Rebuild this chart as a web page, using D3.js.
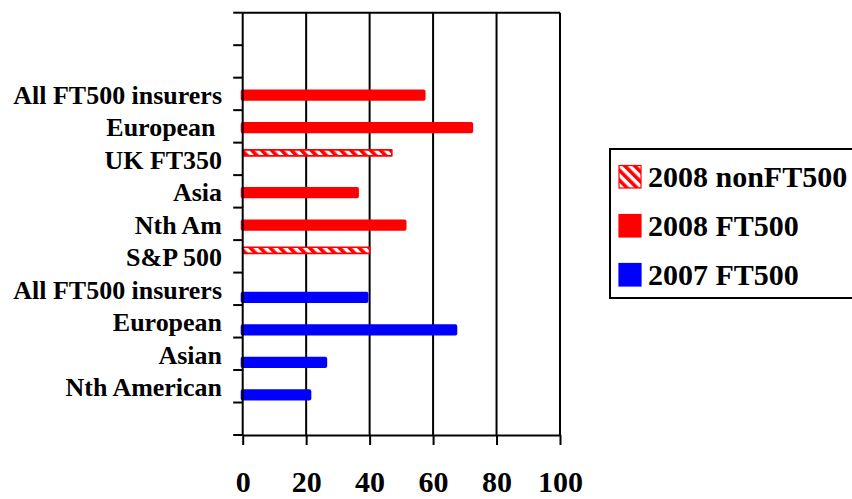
<!DOCTYPE html>
<html>
<head>
<meta charset="utf-8">
<script src="https://cdn.jsdelivr.net/npm/d3@7"></script>
<style>
  html, body { margin: 0; padding: 0; background: #fff; }
  svg { display: block; }
  text { font-family: "Liberation Serif", "Times New Roman", serif; font-weight: bold; fill: #000; white-space: pre; }
</style>
</head>
<body>
<svg id="chart" width="852" height="499"></svg>
<script>
// Category rows, top to bottom (empty strings are spacer rows)
const categories = ["", "", "All FT500 insurers", "European ", "UK FT350", "Asia", "Nth Am",
  "S&P 500", "All FT500 insurers", "European", "Asian", "Nth American", ""];

// Series names in legend order
const seriesNames = ["2008 nonFT500", "2008 FT500", "2007 FT500"];

// Values per category row for each series
const nonFT500_2008 = [null, null, null, null, 47, null, null, 40, null, null, null, null, null];
const ft500_2008    = [null, null, 57, 72, null, 36, 51, null, null, null, null, null, null];
const ft500_2007    = [null, null, null, null, null, null, null, null, 39, 67, 26, 21, null];

// Value axis ticks
const xTicks = [0, 20, 40, 60, 80, 100];

const seriesValues = [nonFT500_2008, ft500_2008, ft500_2007];
const seriesFill = ["url(#hatch)", "#ff0000", "#0000ff"];
const seriesEdge = ["#ff0000", "#ff0000", "#0000ff"];

const svg = d3.select("#chart");

const plot = { left: 242.7, right: 560, top: 12.7, bottom: 435 };

const x = d3.scaleLinear().domain([0, 100]).range([plot.left, plot.right]);
const y = d3.scaleBand().domain(d3.range(categories.length)).range([plot.top, plot.bottom]).padding(0);
// Slots for the three series inside each category row
const sub = d3.scaleBand().domain(d3.range(seriesNames.length)).range([6.6, 28.4]).padding(0);

// Diagonal hatch used by the nonFT500 series
const defs = svg.append("defs");
const pat = defs.append("pattern")
  .attr("id", "hatch")
  .attr("patternUnits", "userSpaceOnUse")
  .attr("width", 7).attr("height", 7)
  .attr("patternTransform", "rotate(-45)");
pat.append("rect").attr("width", 7).attr("height", 7).attr("fill", "#fff");
pat.append("rect").attr("width", 3.6).attr("height", 7).attr("fill", "#ff0000");

// Vertical gridlines
svg.append("g").selectAll("line")
  .data(xTicks.filter(d => d > 0))
  .join("line")
  .attr("x1", d => x(d)).attr("x2", d => x(d))
  .attr("y1", plot.top).attr("y2", plot.bottom)
  .attr("stroke", "#000").attr("stroke-width", 2);

// Top border of the plot
svg.append("line")
  .attr("x1", x(0)).attr("x2", x(100))
  .attr("y1", plot.top).attr("y2", plot.top)
  .attr("stroke", "#000").attr("stroke-width", 2);

// Bars: solid bars carry a thick same-colour outline, hatched bars a thin one
const bars = svg.append("g");
seriesValues.forEach((vals, si) => {
  const rows = vals.map((v, i) => ({ v, i })).filter(d => d.v != null);
  const hatched = si === 0;
  bars.append("g").selectAll("rect")
    .data(rows)
    .join("rect")
    .attr("x", x(0))
    .attr("width", d => x(d.v) - x(0))
    .attr("y", d => y(d.i) + sub(si) + (hatched ? 0.6 : 0))
    .attr("height", hatched ? sub.bandwidth() - 1.2 : sub.bandwidth())
    .attr("fill", seriesFill[si])
    .attr("stroke", seriesEdge[si])
    .attr("stroke-width", hatched ? 1.6 : 4)
    .attr("stroke-linejoin", "round");
});

// Category axis: line with ticks between rows
const catAxis = svg.append("g");
catAxis.append("line")
  .attr("x1", x(0)).attr("x2", x(0))
  .attr("y1", plot.top).attr("y2", plot.bottom)
  .attr("stroke", "#000").attr("stroke-width", 2);
const boundaries = d3.range(categories.length).map(i => y(i)).concat([plot.bottom]);
catAxis.selectAll("line.tick")
  .data(boundaries)
  .join("line")
  .attr("class", "tick")
  .attr("x1", x(0) - 9.5).attr("x2", x(0))
  .attr("y1", d => d).attr("y2", d => d)
  .attr("stroke", "#000").attr("stroke-width", 2);

// Category labels
catAxis.selectAll("g.lab")
  .data(categories.map((c, i) => ({ c, i })).filter(d => d.c !== ""))
  .join("g")
  .attr("class", "lab")
  .attr("transform", d => `translate(222,${y(d.i) + y.bandwidth() / 2 + 10}) scale(1.06,1)`)
  .append("text")
  .attr("text-anchor", "end")
  .attr("font-size", 24.5)
  .text(d => d.c);

// Value axis along the bottom
const xAxis = d3.axisBottom(x).tickValues(xTicks).tickSize(10).tickPadding(25.5).tickSizeOuter(0);
const gx = svg.append("g").attr("transform", `translate(0,${plot.bottom})`).call(xAxis);
gx.select(".domain").attr("stroke", "#000").attr("stroke-width", 2);
gx.selectAll(".tick line").attr("stroke", "#000").attr("stroke-width", 2);
gx.selectAll(".tick text")
  .attr("font-size", 30)
  .attr("font-family", "'Liberation Serif', 'Times New Roman', serif")
  .attr("font-weight", "bold")
  .attr("fill", "#000");

// Legend
const legend = svg.append("g");
legend.append("rect")
  .attr("x", 610).attr("y", 149)
  .attr("width", 260).attr("height", 149)
  .attr("fill", "#fff").attr("stroke", "#000").attr("stroke-width", 2);
const items = legend.selectAll("g.item")
  .data(seriesNames.map((n, i) => ({ n, i })))
  .join("g")
  .attr("class", "item")
  .attr("transform", d => `translate(0,${187 + d.i * 49})`);
items.append("rect")
  .attr("x", 619).attr("y", -21.5)
  .attr("width", 22).attr("height", 22.5)
  .attr("fill", d => seriesFill[d.i])
  .attr("stroke", d => seriesEdge[d.i])
  .attr("stroke-width", 1.2);
items.append("text")
  .attr("x", 648).attr("y", 0)
  .attr("font-size", 30)
  .text(d => d.n);
</script>
</body>
</html>
